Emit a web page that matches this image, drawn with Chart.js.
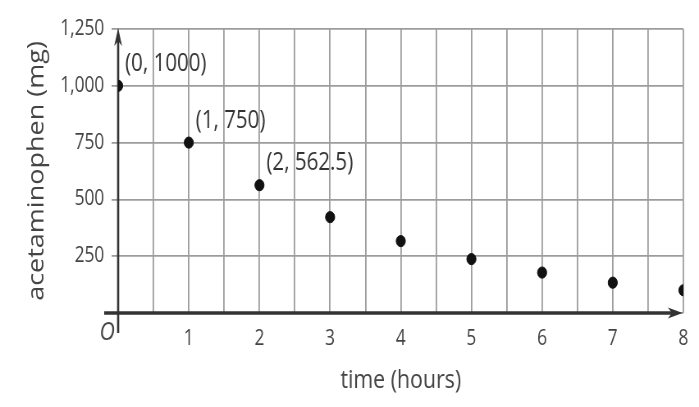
<!DOCTYPE html>
<html>
<head>
<meta charset="utf-8">
<script src="https://cdn.jsdelivr.net/npm/chart.js@4/dist/chart.umd.min.js"></script>
<style>
  html, body { margin: 0; padding: 0; background: #fff; overflow: hidden; }
  #wrap { width: 852px; height: 407px; transform: scaleX(0.8204); transform-origin: 0 0; }
  canvas { display: block; }
</style>
</head>
<body>
<div id="wrap"><canvas id="c" width="852" height="407"></canvas></div>
<script>
// ---- data ----
const hours = [0, 1, 2, 3, 4, 5, 6, 7, 8];
const acetaminophenMg = [1000, 750, 562.5, 421.9, 316.4, 237.3, 178, 133.5, 100.1];
const pointLabels = ['(0, 1000)', '(1, 750)', '(2, 562.5)'];
const xTitle = 'time (hours)';
const yTitle = 'acetaminophen (mg)';
const originLabel = 'O';

const FONT = "'Open Sans', 'Noto Sans', sans-serif";
const TEXT = '#444';
const GRID = '#9c9c9c';
const AXIS = '#333';

const points = hours.map((h, i) => ({ x: h, y: acetaminophenMg[i] }));

const axesPlugin = {
  id: 'axesPlugin',
  beforeDatasetsDraw(chart) {
    const ctx = chart.ctx;
    const xs = chart.scales.x, ys = chart.scales.y;
    const x0 = xs.getPixelForValue(0), x8 = xs.getPixelForValue(8);
    const y0 = ys.getPixelForValue(0), yTop = ys.getPixelForValue(1250);
    ctx.save();
    ctx.strokeStyle = AXIS; ctx.fillStyle = AXIS;
    // x axis
    ctx.lineWidth = 3.5;
    ctx.beginPath(); ctx.moveTo(x0 - 17, y0); ctx.lineTo(x8 - 8, y0); ctx.stroke();
    ctx.beginPath();
    ctx.moveTo(x8 - 1, y0);
    ctx.lineTo(x8 - 19, y0 - 5.5);
    ctx.lineTo(x8 - 14, y0);
    ctx.lineTo(x8 - 19, y0 + 5.5);
    ctx.closePath(); ctx.fill();
    // y axis
    ctx.lineWidth = 2.6;
    ctx.beginPath(); ctx.moveTo(x0, y0 + 20); ctx.lineTo(x0, yTop + 8); ctx.stroke();
    ctx.beginPath();
    ctx.moveTo(x0, yTop - 1);
    ctx.lineTo(x0 - 4.8, yTop + 17);
    ctx.lineTo(x0, yTop + 12);
    ctx.lineTo(x0 + 4.8, yTop + 17);
    ctx.closePath(); ctx.fill();
    ctx.restore();
  },
  afterDatasetsDraw(chart) {
    const ctx = chart.ctx;
    const xs = chart.scales.x, ys = chart.scales.y;
    ctx.save();
    ctx.fillStyle = '#333';
    ctx.font = '25px ' + FONT;
    ctx.textAlign = 'left';
    ctx.textBaseline = 'middle';
    pointLabels.forEach((t, i) => {
      const px = xs.getPixelForValue(hours[i]);
      const py = ys.getPixelForValue(acetaminophenMg[i]);
      ctx.fillText(t, px + 8.5, py - 22);
    });
    ctx.fillStyle = TEXT;
    ctx.font = 'italic 26px ' + FONT;
    ctx.textAlign = 'right';
    ctx.textBaseline = 'alphabetic';
    ctx.fillText(originLabel, xs.getPixelForValue(0) - 4, ys.getPixelForValue(0) + 27);
    ctx.restore();
  }
};

new Chart(document.getElementById('c'), {
  type: 'scatter',
  data: {
    datasets: [{
      data: points,
      backgroundColor: '#111',
      borderColor: '#111',
      pointRadius: 5.6,
      pointHoverRadius: 5.6
    }]
  },
  options: {
    responsive: false,
    animation: false,
    events: [],
    layout: { padding: { left: 0, right: 18, top: 29, bottom: 0 } },
    plugins: { legend: { display: false }, tooltip: { enabled: false } },
    scales: {
      x: {
        type: 'linear', min: 0, max: 8,
        afterFit(s) { s.height = 94; },
        border: { display: false },
        grid: { color: GRID, lineWidth: 1.8, drawTicks: false },
        ticks: {
          stepSize: 0.5, autoSkip: false, maxRotation: 0, padding: 13,
          color: TEXT, font: { family: FONT, size: 21 },
          callback: v => (Number.isInteger(v) && v !== 0) ? String(v) : ''
        },
        title: { display: true, text: xTitle, color: TEXT, font: { family: FONT, size: 26 }, padding: { top: 0, bottom: 11 } }
      },
      y: {
        type: 'linear', min: 0, max: 1250,
        afterFit(s) { s.width = 144; },
        border: { display: false },
        grid: { color: GRID, lineWidth: 1.8, drawTicks: true, tickLength: 8 },
        ticks: {
          stepSize: 250, padding: 9,
          color: TEXT, font: { family: FONT, size: 21 },
          callback: v => v === 0 ? '' : v.toLocaleString('en-US')
        },
        title: { display: true, text: yTitle, color: TEXT, font: { family: FONT, size: 27 }, padding: { top: 29, bottom: 0 } }
      }
    }
  },
  plugins: [axesPlugin]
});
</script>
</body>
</html>
